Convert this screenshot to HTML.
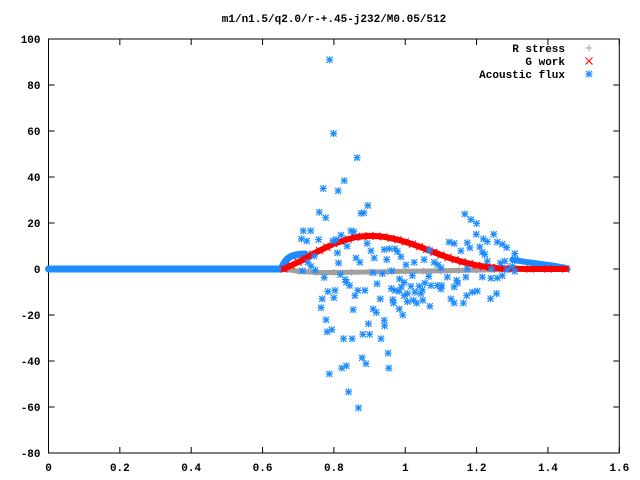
<!DOCTYPE html>
<html><head><meta charset="utf-8">
<style>
html,body{margin:0;padding:0;background:#fff;}
svg{display:block;font-family:"Liberation Mono",monospace;font-size:11px;font-weight:bold;}
</style></head>
<body>
<svg id="chart" width="640" height="480" viewBox="0 0 640 480">
<rect width="640" height="480" fill="#fff"/>
<text x="334" y="22" text-anchor="middle">m1/n1.5/q2.0/r-+.45-j232/M0.05/512</text>
<g id="axes"></g>
<g id="series"></g>
<g id="legend"></g>
</svg>
<script>
const xTicks=[0,0.2,0.4,0.6,0.8,1,1.2,1.4,1.6];
const xTickLabels=["0","0.2","0.4","0.6","0.8","1","1.2","1.4","1.6"];
const yTicks=[-80,-60,-40,-20,0,20,40,60,80,100];
const yTickLabels=["-80","-60","-40","-20","0","20","40","60","80","100"];
const gWorkX=[0.66,0.68,0.70,0.72,0.74,0.76,0.78,0.80,0.82,0.84,0.86,0.88,0.90,0.92,0.94,0.96,0.98,1.00,1.02,1.04,1.06,1.08,1.10,1.12,1.14,1.16,1.18,1.20,1.22,1.24,1.26,1.28,1.30,1.35,1.40,1.45];
const gWorkY=[0,1.5,3,4.5,6.5,8,9.5,11,12,13,13.8,14.2,14.4,14.3,14,13.4,12.7,11.8,10.8,9.7,8.5,7.3,6.1,5,4,3.1,2.3,1.6,1.1,0.7,0.4,0.2,0.1,0,0,0];
const rStressX=[0.66,0.70,0.75,0.80,0.85,0.90,0.95,1.00,1.05,1.10,1.15,1.20,1.25,1.30,1.35,1.40,1.45];
const rStressY=[0,-1,-1.5,-1.5,-1.4,-1.3,-1.2,-1.0,-0.9,-0.8,-0.6,-0.5,-0.3,-0.2,-0.1,0,0];
const fluxBaseX=[0,0.655];
const fluxBaseY=[0,0];
const fluxFrontX=[0.655,0.66,0.665,0.67,0.68,0.69,0.70,0.71,0.72];
const fluxFrontY=[1,2.5,3.5,4.5,5.5,6,6.3,6.5,6.5];
const fluxTailX=[1.30,1.32,1.34,1.36,1.38,1.40,1.42,1.44,1.45,1.455];
const fluxTailY=[4,3.5,3,2.6,2.2,1.8,1.3,0.8,0.5,0];
const fluxX=[0.788,0.799,0.865,0.829,0.770,0.812,0.895,0.876,0.884,0.759,0.777,1.167,1.184,1.200,0.714,0.735,0.848,0.856,0.820,0.709,0.724,0.757,0.797,0.806,1.199,1.248,1.219,1.230,1.258,1.272,1.284,1.123,1.137,1.174,1.156,1.181,1.209,1.216,1.223,0.810,0.837,0.893,0.904,0.941,0.956,0.971,0.978,0.913,0.948,0.862,0.873,0.813,0.988,1.025,1.002,1.053,1.068,1.081,1.092,1.100,1.307,1.309,1.279,1.300,1.267,1.230,1.242,1.286,1.272,1.307,1.258,1.240,1.216,1.174,1.170,1.118,1.144,0.712,0.727,0.745,0.736,0.748,0.773,0.818,0.832,0.844,0.835,0.910,0.936,0.962,0.984,1.020,0.997,1.016,1.039,1.055,1.066,1.072,1.090,1.100,1.102,1.137,1.147,0.989,0.983,0.961,0.971,0.997,1.006,1.027,1.048,1.044,0.783,0.803,0.767,0.800,0.867,0.887,0.859,0.921,0.930,0.965,0.967,1.006,1.032,1.023,1.049,1.069,1.128,1.137,1.163,1.172,1.188,1.202,1.239,1.256,0.764,0.854,0.910,0.919,0.983,0.993,0.778,0.941,0.942,0.897,0.781,0.794,0.881,0.900,0.827,0.851,0.932,0.952,0.879,0.890,0.822,0.835,0.954,0.787,0.841,0.869];
const fluxY=[91.0,58.9,48.4,38.4,35.0,34.0,27.6,24.2,24.4,24.7,22.3,23.9,21.5,19.8,16.6,16.6,16.6,16.2,14.7,13.1,12.2,12.8,12.2,12.8,15.1,15.1,13.1,11.9,11.7,10.8,9.3,11.7,11.1,11.4,7.9,9.2,9.6,7.3,6.3,7.0,9.9,11.1,7.9,8.5,8.8,8.8,7.6,4.8,4.1,4.8,2.9,2.6,5.3,2.9,1.8,4.1,8.2,2.9,1.8,0.5,6.7,4.1,3.4,1.2,2.6,3.4,0.0,-0.3,-2.9,-1.0,-3.9,-4.0,-3.5,0.0,-3.5,-3.5,-4.9,-0.8,2.9,5.6,1.2,-0.5,-3.7,-2.4,-4.6,-7.2,-5.8,-1.6,-2.0,-0.8,-4.3,-2.9,-5.8,-7.5,-7.5,-6.1,-3.2,-7.2,-7.2,-8.7,-7.2,-7.8,-6.1,-7.8,-9.7,-8.5,-9.3,-11.6,-10.7,-10.1,-9.0,-10.7,-9.8,-9.3,-13.0,-12.5,-9.3,-9.3,-11.6,-6.4,-13.0,-13.3,-14.8,-14.2,-14.8,-13.6,-13.6,-16.2,-13.0,-14.8,-14.8,-11.6,-10.1,-9.6,-12.9,-10.7,-16.8,-17.7,-17.4,-18.9,-17.4,-20.0,-22.1,-22.3,-24.7,-23.8,-27.3,-26.4,-28.4,-28.4,-30.3,-30.3,-30.3,-36.6,-38.6,-41.2,-43.1,-42.1,-43.1,-45.6,-53.4,-60.4];

const L=48.5,R=619.3,T=39,B=453;
const xMin=0,xMax=1.6,yMin=-80,yMax=100;
function sx(v){return L+(v-xMin)/(xMax-xMin)*(R-L);}
function sy(v){return B-(v-yMin)/(yMax-yMin)*(B-T);}
const NS="http://www.w3.org/2000/svg";
function mk(tag,attrs,parent){const e=document.createElementNS(NS,tag);for(const k in attrs)e.setAttribute(k,attrs[k]);parent.appendChild(e);return e;}
const axes=document.getElementById('axes');
const series=document.getElementById('series');
const legend=document.getElementById('legend');

const frame=mk('rect',{x:L,y:T,width:R-L,height:B-T,fill:'none',stroke:'#000','stroke-width':1},axes);


xTicks.forEach((v,i)=>{
  const x=sx(v);
  const t=mk('path',{d:`M${x},${B}v-6M${x},${T}v6`,stroke:'#000','stroke-width':1},axes);
  
  
  const lb=mk('text',{x:x,y:B+18,'text-anchor':'middle'},axes);
  lb.textContent=xTickLabels[i];
  
  
});
yTicks.forEach((v,i)=>{
  const y=sy(v);
  const t=mk('path',{d:`M${L},${y}h6M${R},${y}h-6`,stroke:'#000','stroke-width':1},axes);
  
  
  const lb=mk('text',{x:L-8,y:y+4,'text-anchor':'end'},axes);
  lb.textContent=yTickLabels[i];
  
  
});

function band(xs,ys,color,w,name){
  let d='';xs.forEach((v,i)=>{d+=(i?'L':'M')+sx(v)+','+sy(ys[i]);});
  const p=mk('path',{d:d,fill:'none',stroke:color,'stroke-width':w,'stroke-linejoin':'round','stroke-linecap':'round'},series);
  
  
}
function plus(x,y,c,g){mk('path',{d:`M${x-3.5},${y}h7M${x},${y-3.5}v7`,stroke:c,'stroke-width':1},g);}
function cross(x,y,c,g){mk('path',{d:`M${x-3.5},${y-3.5}l7,7M${x-3.5},${y+3.5}l7,-7`,stroke:c,'stroke-width':1},g);}
function star(x,y,c,g){mk('path',{d:`M${x-3.5},${y}h7M${x},${y-3.5}v7M${x-3},${y-3}l6,6M${x-3},${y+3}l6,-6`,stroke:c,'stroke-width':1.2},g);}

const blue='#1e8cff',red='#ff0000',grey='#a0a0a0';
// R stress
band(rStressX,rStressY,grey,5,'r-stress-band');
const gR=mk('g',{},series);


rStressX.forEach((v,i)=>plus(sx(v),sy(rStressY[i]),grey,gR));
// flux baseline
band(fluxBaseX,fluxBaseY,blue,7,'acoustic-flux-baseline');
band(fluxFrontX,fluxFrontY,blue,7,'acoustic-flux-front');
band(fluxTailX,fluxTailY,blue,6,'acoustic-flux-tail');
// G work
band(gWorkX,gWorkY,red,6,'g-work-band');
const gG=mk('g',{},series);


gWorkX.forEach((v,i)=>cross(sx(v),sy(gWorkY[i]),red,gG));
// flux scatter
const gF=mk('g',{},series);


fluxX.forEach((v,i)=>star(sx(v),sy(fluxY[i]),blue,gF));

// legend
const entries=[["R stress",grey,plus],["G work",red,cross],["Acoustic flux",blue,star]];
entries.forEach((e,i)=>{
  const y=52+i*13;
  const t=mk('text',{x:565,y:y,'text-anchor':'end'},legend);
  t.textContent=e[0];
  
  
  const g=mk('g',{},legend);
  
  
  e[2](589,y-4,e[1],g);
});
</script>
</body></html>
